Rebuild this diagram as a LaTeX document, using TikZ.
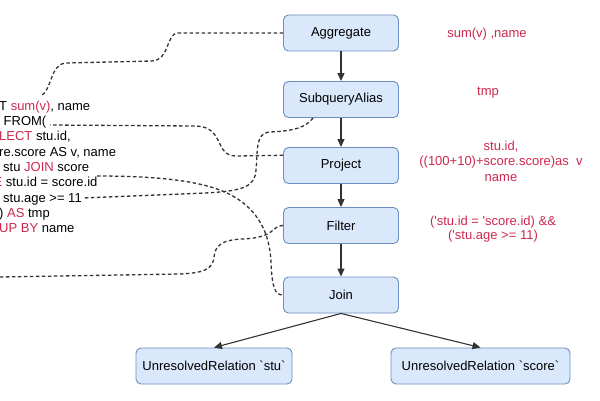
\documentclass[tikz,border=0pt]{standalone}
\usepackage{fontspec}
\setmainfont{Liberation Sans}
\usetikzlibrary{arrows.meta,calc}
\definecolor{nodefill}{HTML}{DAE8FC}
\definecolor{nodeline}{HTML}{6C8EBF}
\definecolor{sqlred}{RGB}{204,40,78}
\definecolor{linegray}{HTML}{333333}
\tikzset{
  plan/.style = {
    draw=nodeline, fill=nodefill, rounded corners=5pt, line width=0.9pt,
    minimum width=115pt, minimum height=36pt,
    font=\fontsize{13}{15}\selectfont
  },
  flow/.style = {-{Triangle[length=8pt,width=7pt]}, line width=1.1pt, linegray},
  link/.style = {dash pattern=on 3.5pt off 2.5pt, line width=1.3pt, linegray},
  sql/.style = {anchor=base west, inner sep=0pt, font=\fontsize{13}{15}\selectfont},
  attr/.style = {text=sqlred, align=center, inner sep=0pt, font=\fontsize{13}{15.5}\selectfont}
}
\newcommand{\kw}[1]{\textcolor{sqlred}{#1}}

\begin{document}
\begin{tikzpicture}[x=1pt,y=-1pt]
  \useasboundingbox (0,0) rectangle (600,400);
  \clip (0,0) rectangle (600,400);
  % logical plan
  \node[plan] (agg) at (341,33) {Aggregate};
  \node[plan] (alias) at (341,99.5) {SubqueryAlias};
  \node[plan] (proj) at (341,165.5) {Project};
  \node[plan] (filt) at (341,225.5) {Filter};
  \node[plan] (join) at (341,295) {Join};
  \node[plan, minimum width=156pt] (stu) at (214,366) {UnresolvedRelation \textasciigrave stu\textasciigrave};
  \node[plan, minimum width=179pt] (score) at (480.5,366) {UnresolvedRelation \textasciigrave score\textasciigrave};
  \foreach \a/\b in {agg/alias,alias/proj,proj/filt,filt/join}
    \draw[flow] (\a) -- (\b);
  \draw[flow] (join.south) -- (stu.north);
  \draw[flow] (join.south) -- (score.north);
  % attributes
  \node[attr] (aggattr) at (487,34) {sum(v) ,name};
  \node[attr] (aliasattr) at (488,93) {tmp};
  \node[attr] (projattr) at (501,161) {stu.id,\\((100+10)+score.score)as\ \ v\\name};
  \node[attr, font=\fontsize{13}{14}\selectfont] (filtattr) at (493,229) {(\textquotesingle stu.id = \textquotesingle score.id) \&\&\\(\textquotesingle stu.age >= 11)};
  % query text
  \node[sql] (sel) at (-1,110.7) {T \kw{sum(v)}, name};
  \node[sql] (from) at (3.5,125.7) {FROM(};
  \node[sql] (inner) at (-1,140.7) {\kw{LECT} stu.id,};
  \node[sql] (expr) at (-1,156.7) {re.score AS v, name};
  \node[sql] (joinl) at (3,171.7) {stu \kw{JOIN} score};
  \node[sql] (where) at (-6.5,186.7) {\kw{E} stu.id = score.id};
  \node[sql] (age) at (3,202.7) {stu.age >= 11};
  \node[sql] (astmp) at (-1,217.7) {) \kw{AS} tmp};
  \node[sql] (group) at (-1,232.7) {\kw{UP BY} name};
  % dashed links
  \coordinate (sumtop) at (41,96);
  \coordinate (fromend) at (50,125);
  \coordinate (ageend) at (83,198);
  \coordinate (idend) at (97,176);
  \coordinate (offleft) at (0,277);
  \draw[link] (agg.west) -- (178,33) .. controls (166,33) and (170,60) .. (152,61) -- (66,63) .. controls (50,64) and (52,90) .. (sumtop);
  \draw[link] (proj.170) -- (236,156) .. controls (214,156) and (225,127) .. (196,126) -- (fromend);
  \draw[link] ($(alias.south west)+(30,0)$) .. controls (306,127) and (295,131) .. (270,132) .. controls (255,133) and (258,150) .. (256,170) .. controls (255,186) and (245,191) .. (205,193) -- (ageend);
  \draw[link] (idend) .. controls (180,176) and (220,185) .. (242,202) .. controls (263,218) and (270,240) .. (271,262) .. controls (272,288) and (275,295) .. (join.west);
  \draw[link] (filt.west) .. controls (272,225) and (276,238) .. (242,239) .. controls (220,240) and (215,247) .. (214,257) .. controls (213,270) and (202,273) .. (180,274) -- (offleft);
\end{tikzpicture}
\end{document}
